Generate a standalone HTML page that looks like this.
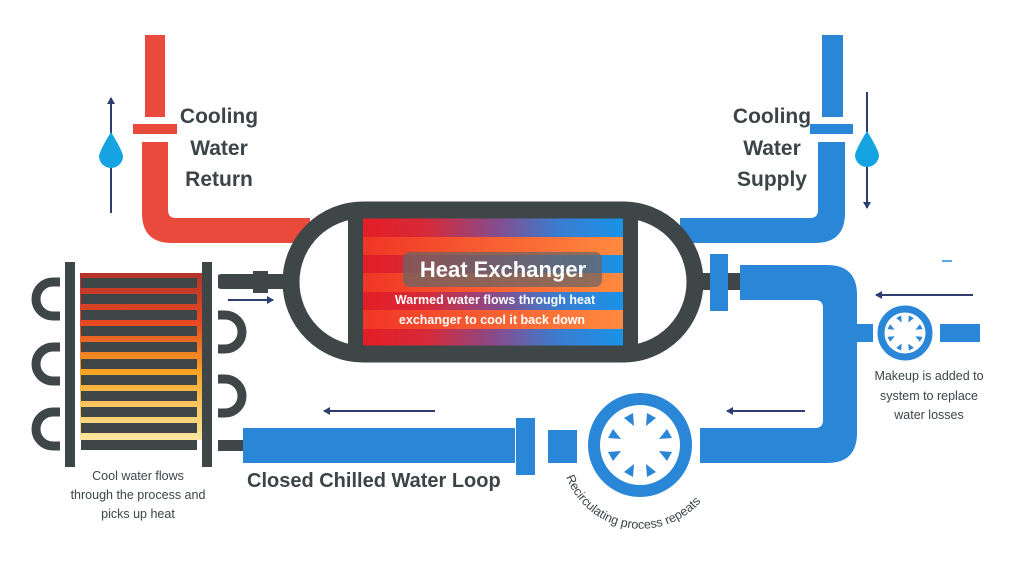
<!DOCTYPE html>
<html><head><meta charset="utf-8"><style>
html,body{margin:0;padding:0;background:#fff;}
svg{display:block;}
text{font-family:"Liberation Sans",sans-serif;}
</style></head><body>
<svg width="1030" height="582" viewBox="0 0 1030 582" xmlns="http://www.w3.org/2000/svg">
<defs>
<linearGradient id="g1" x1="0" x2="1" y1="0" y2="0">
<stop offset="0" stop-color="#e41e26"/><stop offset="0.25" stop-color="#d52a3a"/><stop offset="0.5" stop-color="#8a4a88"/><stop offset="0.75" stop-color="#3a7cd0"/><stop offset="1" stop-color="#1893e8"/></linearGradient>
<linearGradient id="g2" x1="0" x2="1" y1="0" y2="0">
<stop offset="0" stop-color="#f03526"/><stop offset="1" stop-color="#ff8a3e"/></linearGradient>
<linearGradient id="gp" x1="0" x2="0" y1="0" y2="1">
<stop offset="0" stop-color="#b3332a"/><stop offset="0.3" stop-color="#e84a22"/><stop offset="0.6" stop-color="#f6a624"/><stop offset="1" stop-color="#fde7a0"/></linearGradient>
<marker id="ah" markerWidth="8" markerHeight="8" refX="6" refY="4" orient="auto" markerUnits="userSpaceOnUse"><path d="M0,0 L7,4 L0,8 Z" fill="#2d3d6e"/></marker>
<path id="arc" d="M 566 477 A 80 80 0 0 0 718 470"/>
<g id="spokes">
<polygon points="6,-19 7,-32 16,-27"/>
<polygon points="-6,-19 -7,-32 -16,-27"/>
<polygon points="6,19 7,32 16,27"/>
<polygon points="-6,19 -7,32 -16,27"/>
<polygon points="19,-6 32,-7 27,-16"/>
<polygon points="-19,-6 -32,-7 -27,-16"/>
<polygon points="19,6 32,7 27,16"/>
<polygon points="-19,6 -32,7 -27,16"/>
</g>
</defs>

<rect x="145" y="35" width="20" height="82" fill="#ea4a3c"/>
<rect x="133" y="124" width="44" height="10" fill="#ea4a3c"/>
<path d="M142 142 H168 V210 Q168 218 176 218 H310 V243 H172 Q142 243 142 213 Z" fill="#ea4a3c"/>
<rect x="822" y="35" width="21" height="82" fill="#2a86d6"/>
<rect x="810" y="124" width="43" height="10" fill="#2a86d6"/>
<path d="M845 142 H818 V210 Q818 218 810 218 H680 V243 H815 Q845 243 845 213 Z" fill="#2a86d6"/>

<line x1="111" y1="213" x2="111" y2="98" stroke="#2d3d6e" stroke-width="2" marker-end="url(#ah)"/>
<path d="M111 132 Q100 150 99 156 A12 12 0 0 0 123 156 Q122 150 111 132 Z" fill="#16a3e2"/>
<line x1="867" y1="92" x2="867" y2="208" stroke="#2d3d6e" stroke-width="2" marker-end="url(#ah)"/>
<path d="M867 131 Q856 149 855 155 A12 12 0 0 0 879 155 Q878 149 867 131 Z" fill="#16a3e2"/>

<text font-weight="bold" font-size="21" fill="#3d4448" text-anchor="middle"><tspan x="219" y="123">Cooling</tspan><tspan x="219" y="155">Water</tspan><tspan x="219" y="186">Return</tspan></text>
<text font-weight="bold" font-size="21" fill="#3d4448" text-anchor="middle"><tspan x="772" y="123">Cooling</tspan><tspan x="772" y="155">Water</tspan><tspan x="772" y="186">Supply</tspan></text>

<rect x="363" y="218" width="260" height="19" fill="url(#g1)"/>
<rect x="363" y="237" width="260" height="18" fill="url(#g2)"/>
<rect x="363" y="255" width="260" height="18" fill="url(#g1)"/>
<rect x="363" y="273" width="260" height="19" fill="url(#g2)"/>
<rect x="363" y="292" width="260" height="18" fill="url(#g1)"/>
<rect x="363" y="310" width="260" height="19" fill="url(#g2)"/>
<rect x="363" y="329" width="260" height="18" fill="url(#g1)"/>
<rect x="291" y="210" width="404" height="144" rx="72" fill="none" stroke="#3f4648" stroke-width="17"/>
<rect x="348" y="210" width="15" height="144" fill="#3f4648"/>
<rect x="623" y="210" width="15" height="144" fill="#3f4648"/>
<rect x="403" y="252" width="199" height="35" rx="7" fill="#6b6564" opacity="0.75"/>
<text x="503" y="277" font-weight="bold" font-size="22" fill="#fff" text-anchor="middle">Heat Exchanger</text>
<text x="495" y="304" font-weight="bold" font-size="12.5" fill="#fff" text-anchor="middle">Warmed water flows through heat</text>
<text x="492" y="324" font-weight="bold" font-size="12.5" fill="#fff" text-anchor="middle">exchanger  to cool it back down</text>

<rect x="700" y="273" width="45" height="17" fill="#3f4648"/>
<rect x="710" y="254" width="18" height="57" fill="#2a86d6"/>
<path d="M740 265 H827 Q857 265 857 295 V433 Q857 463 827 463 H700 V428 H815 Q823 428 823 420 V308 Q823 300 815 300 H740 Z" fill="#2a86d6"/>
<rect x="942" y="260" width="10" height="2" fill="#5aa8e8"/>

<rect x="855" y="324" width="18" height="18" fill="#2a86d6"/>
<rect x="940" y="324" width="40" height="18" fill="#2a86d6"/>
<circle cx="905" cy="333" r="24" fill="#fff" stroke="#2a86d6" stroke-width="7"/>
<use href="#spokes" fill="#2a86d6" transform="translate(905,333) scale(0.55)"/>
<line x1="973" y1="295" x2="876" y2="295" stroke="#2d3d6e" stroke-width="2" marker-end="url(#ah)"/>
<text font-size="12.5" fill="#3d4448" text-anchor="middle"><tspan x="929" y="380">Makeup is added to</tspan><tspan x="929" y="400">system to replace</tspan><tspan x="929" y="419">water losses</tspan></text>

<rect x="243" y="428" width="272" height="35" fill="#2a86d6"/>
<rect x="516" y="418" width="19" height="57" fill="#2a86d6"/>
<rect x="548" y="430" width="29" height="33" fill="#2a86d6"/>
<circle cx="640" cy="445" r="46" fill="#fff" stroke="#2a86d6" stroke-width="12"/>
<use href="#spokes" fill="#2a86d6" transform="translate(640,445)"/>
<line x1="435" y1="411" x2="324" y2="411" stroke="#2d3d6e" stroke-width="2" marker-end="url(#ah)"/>
<line x1="805" y1="411" x2="727" y2="411" stroke="#2d3d6e" stroke-width="2" marker-end="url(#ah)"/>
<text font-size="12.5" fill="#3d4448"><textPath href="#arc" startOffset="0">Recirculating process repeats</textPath></text>
<text x="247" y="487" font-weight="bold" font-size="20" fill="#3d4448">Closed Chilled Water Loop</text>

<rect x="80" y="273" width="123" height="167" fill="url(#gp)"/>
<g fill="#3f4648">
<rect x="81" y="278" width="116" height="10"/><rect x="81" y="294" width="116" height="10"/><rect x="81" y="310" width="116" height="10"/><rect x="81" y="326" width="116" height="10"/><rect x="81" y="342" width="116" height="10"/><rect x="81" y="359" width="116" height="10"/><rect x="81" y="375" width="116" height="10"/><rect x="81" y="391" width="116" height="10"/><rect x="81" y="407" width="116" height="10"/><rect x="81" y="423" width="116" height="10"/><rect x="81" y="440" width="116" height="10"/>
<rect x="65" y="262" width="10" height="205"/><rect x="202" y="262" width="10" height="205"/>
<path d="M218 276 Q218 274 222 274 H253 V271 H268 V274 H290 V289 H268 V293 H253 V289 H222 Q218 289 218 287 Z"/>
<rect x="218" y="440" width="25" height="11"/>
</g>
<g fill="none" stroke="#3f4648" stroke-width="9">
<path d="M60 282 H53 A17 17 0 0 0 53 316 H60"/>
<path d="M60 347 H53 A17 17 0 0 0 53 381 H60"/>
<path d="M60 412 H53 A17 17 0 0 0 53 446 H60"/>
<path d="M218 315 H225 A17 17 0 0 1 225 349 H218"/>
<path d="M218 379 H225 A17 17 0 0 1 225 413 H218"/>
</g>
<line x1="228" y1="300" x2="273" y2="300" stroke="#2d3d6e" stroke-width="2" marker-end="url(#ah)"/>
<text font-size="12.5" fill="#3d4448" text-anchor="middle"><tspan x="138" y="480">Cool water flows</tspan><tspan x="138" y="499">through the process and</tspan><tspan x="138" y="518">picks up heat</tspan></text>
</svg>
</body></html>
